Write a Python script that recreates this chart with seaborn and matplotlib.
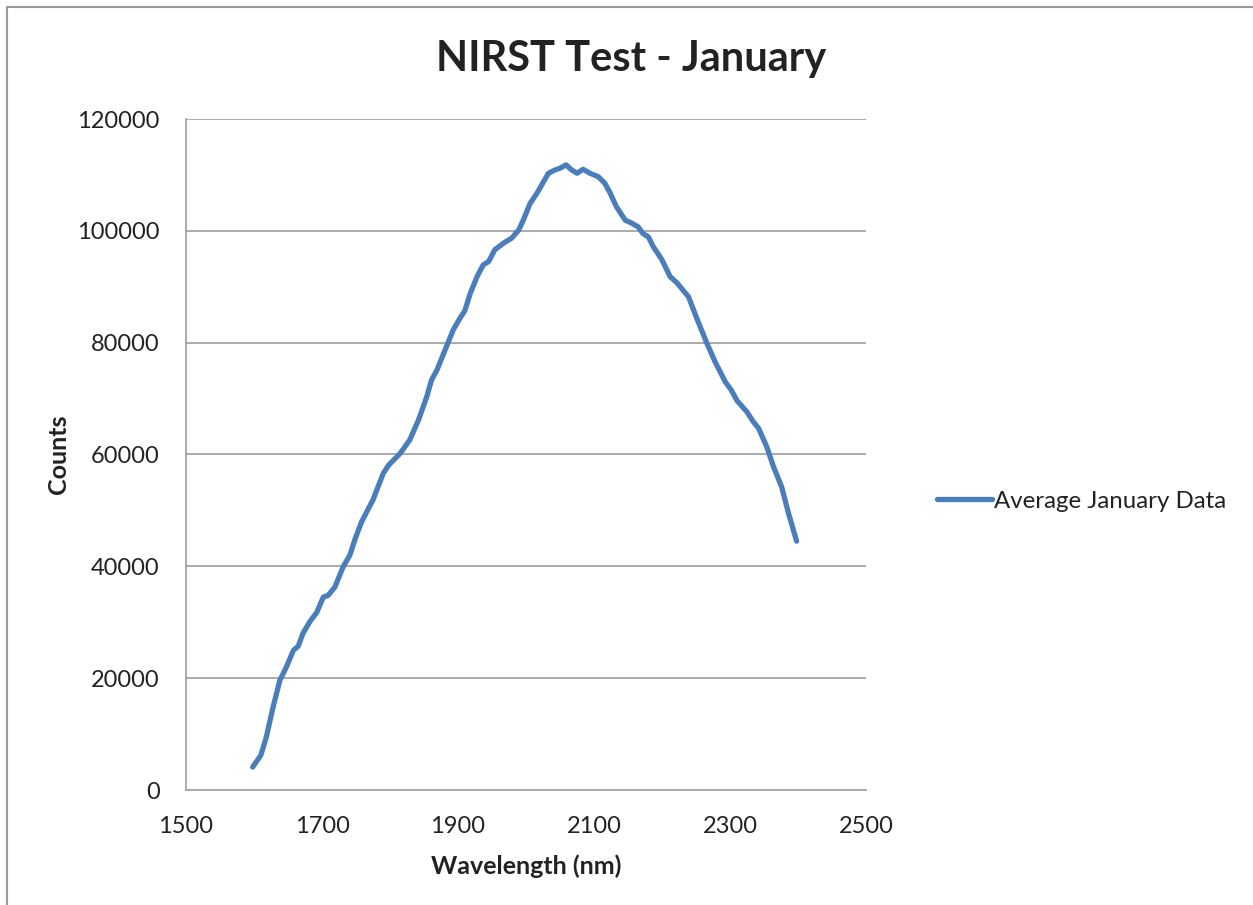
import matplotlib
matplotlib.use("Agg")
import matplotlib.pyplot as plt
import pandas as pd
import seaborn as sns
from matplotlib.lines import Line2D

# ==========================================
# Data
# ==========================================

wavelength = [
    1598, 1610, 1618, 1628, 1638, 1648, 1658, 1665, 1672, 1682,
    1692, 1702, 1709, 1719, 1731, 1741, 1749, 1758, 1775, 1790,
    1798, 1815, 1829, 1842, 1854, 1861, 1869, 1881, 1893, 1903,
    1910, 1918, 1928, 1937, 1945, 1954, 1967, 1979, 1989, 1996,
    2006, 2016, 2023, 2033, 2043, 2050, 2059, 2067, 2075, 2084,
    2094, 2106, 2116, 2124, 2133, 2146, 2155, 2165, 2172, 2180,
    2187, 2200, 2212, 2222, 2239, 2251, 2266, 2278, 2293, 2302,
    2310, 2325, 2334, 2342, 2354, 2364, 2376, 2386, 2398,
]

counts = [
    4100, 6200, 9400, 14800, 19600, 22100, 25000, 25700, 28000, 30100,
    31700, 34500, 34800, 36300, 39900, 42000, 45000, 47900, 51900, 56600,
    58100, 60200, 62600, 66200, 70300, 73300, 75100, 78700, 82300, 84400,
    85700, 88800, 91800, 93900, 94500, 96600, 97800, 98700, 100100, 101900,
    104900, 106700, 108200, 110300, 110900, 111200, 111800, 110900, 110300, 111000,
    110300, 109700, 108500, 106700, 104300, 101900, 101400, 100700, 99500, 98900,
    97200, 94800, 91800, 90700, 88200, 84400, 79900, 76600, 73000, 71500,
    69700, 67600, 65900, 64700, 61400, 57800, 54200, 49500, 44500,
]

x_ticks = [1500, 1700, 1900, 2100, 2300, 2500]
y_ticks = [0, 20000, 40000, 60000, 80000, 100000, 120000]

series_name = "Average January Data"
line_color = "#4a7ebb"
grid_color = "#a5a5a5"
text_color = "#222222"

df = pd.DataFrame({"Wavelength": wavelength, "Counts": counts})

# ==========================================
# Style
# ==========================================

sns.set_theme(style="white")
plt.rcParams["font.family"] = ["Lato", "DejaVu Sans"]

fig = plt.figure(figsize=(12.53, 9.05), dpi=100)
ax = fig.add_axes([186 / 1253, 1 - 790 / 905, 680 / 1253, 671 / 905])

sns.lineplot(
    data=df,
    x="Wavelength",
    y="Counts",
    color=line_color,
    linewidth=3.8,
    sort=False,
    ax=ax,
)

ax.set_xlim(1500, 2500)
ax.set_ylim(0, 120000)
ax.set_xticks(x_ticks)
ax.set_yticks(y_ticks)
ax.tick_params(axis="both", length=0, labelsize=17, colors=text_color)
ax.tick_params(axis="x", pad=19)
ax.tick_params(axis="y", pad=19)

ax.yaxis.grid(True, color=grid_color, linewidth=1.3)
ax.xaxis.grid(False)
ax.set_axisbelow(True)

for side in ["top", "right"]:
    ax.spines[side].set_visible(False)
for side in ["left", "bottom"]:
    ax.spines[side].set_color(grid_color)
    ax.spines[side].set_linewidth(1.3)

ax.set_xlabel("Wavelength (nm)", fontsize=18, fontweight="bold",
              color=text_color, labelpad=12)
ax.set_ylabel("Counts", fontsize=18, fontweight="bold",
              color=text_color, labelpad=5)

fig.text(631 / 1253, 1 - 59 / 905, "NIRST Test - January",
         ha="center", va="center", fontsize=30, fontweight="bold",
         color=text_color)

handle = Line2D([], [], color=line_color, linewidth=3.8)
fig.legend(
    [handle],
    [series_name],
    loc="center left",
    bbox_to_anchor=(915 / 1253, 1 - 501 / 905),
    frameon=False,
    fontsize=17.3,
    handlelength=2.3,
    handletextpad=0.1,
    labelcolor=text_color,
)

# outer chart border (top and left edges visible in the reference)
fig.add_artist(Line2D([7 / 1253, 7 / 1253], [0, 1 - 7 / 905],
                      transform=fig.transFigure, color="#9a9a9a", linewidth=1.5))
fig.add_artist(Line2D([7 / 1253, 1], [1 - 7 / 905, 1 - 7 / 905],
                      transform=fig.transFigure, color="#9a9a9a", linewidth=1.5))

fig.savefig("out.png", dpi=100)
